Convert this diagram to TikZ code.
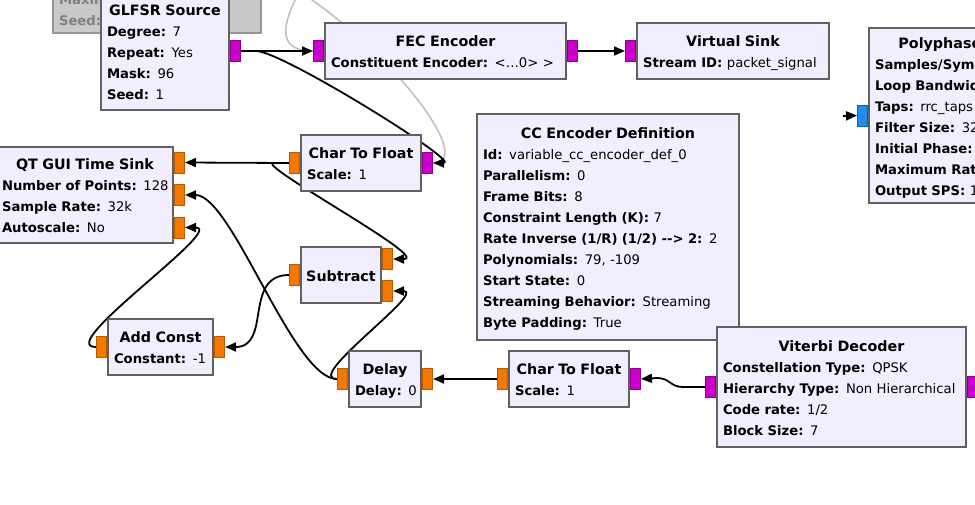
\documentclass[tikz,border=0pt]{standalone}
\usepackage{fontspec}
\setmainfont{DejaVu Sans}
\usetikzlibrary{arrows.meta,positioning}
\setlength{\parindent}{0pt}
\definecolor{blkfill}{RGB}{240,238,255}
\definecolor{blkline}{RGB}{97,97,97}
\definecolor{offfill}{RGB}{201,201,201}
\definecolor{offline}{RGB}{150,150,150}
\definecolor{offtext}{RGB}{128,128,128}
\definecolor{offwire}{RGB}{190,190,190}
\definecolor{bytecol}{RGB}{204,0,204}
\definecolor{floatcol}{RGB}{245,121,0}
\definecolor{cplxcol}{RGB}{33,140,240}
\newcommand{\lnstrut}{\rule[-4.2pt]{0pt}{21pt}}
\newcommand{\ttl}[1]{\makebox[\hsize]{\fontsize{14.3}{21}\selectfont\bfseries\lnstrut #1}}
\newcommand{\prm}[2]{\mbox{\lnstrut\textbf{#1:} #2}}
\pgfdeclarelayer{wires}
\pgfsetlayers{wires,main}
\tikzset{
  blk/.style={rectangle, draw=blkline, fill=blkfill, line width=2pt,
    inner xsep=6pt, inner ysep=0pt, align=left,
    font=\fontsize{13.2}{21}\selectfont},
  offblk/.style={blk, draw=offline, fill=offfill, text=offtext},
  portbox/.style={rectangle, minimum width=10pt, minimum height=21pt,
    inner sep=0pt, line width=1pt},
  bytep/.style={portbox, fill=bytecol, draw=bytecol!70!black},
  floatp/.style={portbox, fill=floatcol, draw=floatcol!75!black},
  cplxp/.style={portbox, fill=cplxcol, draw=cplxcol!65!black},
  wire/.style={line width=1.8pt, -{Triangle[length=11pt,width=9pt]}},
  offwire/.style={line width=1.5pt, draw=offwire}
}

\begin{document}
\begin{tikzpicture}[x=1pt, y=-1pt]
    \useasboundingbox (0,0) rectangle (975,504);

    \node[offblk, text width=196pt, minimum height=49pt] (rndsrc) at (157,8.5)
        {\prm{Maximum}{}\\\prm{Seed}{}};

    \node[blk, text width=116pt, minimum height=118pt] (glfsr) at (165,51)
        {\ttl{GLFSR Source}\\\prm{Degree}{7}\\\prm{Repeat}{Yes}\\\prm{Mask}{96}\\\prm{Seed}{1}};
    \node[blk, text width=229pt, minimum height=56pt] (fec) at (445.5,51)
        {\ttl{FEC Encoder}\\\prm{Constituent Encoder}{<…0> >}};
    \node[blk, text width=180pt, minimum height=56pt] (vsink) at (733,51)
        {\ttl{Virtual Sink}\\\prm{Stream ID}{packet\_signal}};
    \node[blk, text width=220pt, minimum height=175pt] (pp) at (985,115.5)
        {\ttl{Polyphase Clock Sync}\\\prm{Samples/Symbol}{}\\\prm{Loop Bandwidth}{}\\
         \prm{Taps}{rrc\_taps}\\\prm{Filter Size}{32}\\\prm{Initial Phase}{}\\
         \prm{Maximum Rate Deviation}{}\\\prm{Output SPS}{1}};
    \node[blk, text width=250pt, minimum height=226pt] (ccdef) at (608,227)
        {\ttl{CC Encoder Definition}\\\prm{Id}{variable\_cc\_encoder\_def\_0}\\
         \prm{Parallelism}{0}\\\prm{Frame Bits}{8}\\\prm{Constraint Length (K)}{7}\\
         \prm{Rate Inverse (1/R) (1/2) -{}-{}> 2}{2}\\\prm{Polynomials}{79, -109}\\
         \prm{Start State}{0}\\\prm{Streaming Behavior}{Streaming}\\\prm{Byte Padding}{True}};
    \node[blk, text width=237pt, minimum height=120pt] (vit) at (841.5,387)
        {\ttl{Viterbi Decoder}\\\prm{Constellation Type}{QPSK}\\
         \prm{Hierarchy Type}{Non Hierarchical}\\\prm{Code rate}{1/2}\\\prm{Block Size}{7}};
    \node[blk, text width=108pt, minimum height=56pt] (ctfa) at (361,163)
        {\ttl{Char To Float}\\\prm{Scale}{1}};
    \node[blk, text width=108pt, minimum height=56pt] (ctfb) at (569,379)
        {\ttl{Char To Float}\\\prm{Scale}{1}};
    \node[blk, text width=60pt, minimum height=56pt] (dly) at (385,379)
        {\ttl{Delay}\\\prm{Delay}{0}};
    \node[blk, text width=68pt, minimum height=56pt] (sub) at (341,275)
        {\ttl{Subtract}};
    \node[blk, text width=166pt, inner xsep=5pt, minimum height=96pt] (qt) at (85,195)
        {\ttl{QT GUI Time Sink}\\\prm{Number of Points}{128}\\\prm{Sample Rate}{32k}\\\prm{Autoscale}{No}};
    \node[blk, text width=93pt, minimum height=56pt] (addc) at (160.5,347)
        {\ttl{Add Const}\\\prm{Constant}{-1}};

    \node[bytep, right=0pt of glfsr] (glfsro) {};
    \node[bytep, left=0pt of fec] (fecin) {};
    \node[bytep, right=0pt of fec] (fecout) {};
    \node[bytep, left=0pt of vsink] (vsin) {};
    \node[cplxp, left=0pt of pp] (ppin) {};
    \node[bytep, right=0pt of ctfa] (ctfain) {};
    \node[floatp, left=0pt of ctfa] (ctfaout) {};
    \node[bytep, right=0pt of ctfb] (ctfbin) {};
    \node[floatp, left=0pt of ctfb] (ctfbout) {};
    \node[floatp, right=0pt of dly] (dlyin) {};
    \node[floatp, left=0pt of dly] (dlyout) {};
    \node[floatp, right=0pt of sub, yshift=16pt] (subina) {};
    \node[floatp, right=0pt of sub, yshift=-16pt] (subinb) {};
    \node[floatp, left=0pt of sub] (subout) {};
    \node[floatp, right=0pt of qt, yshift=32.5pt] (qtina) {};
    \node[floatp, right=0pt of qt] (qtinb) {};
    \node[floatp, right=0pt of qt, yshift=-32.5pt] (qtinc) {};
    \node[floatp, right=0pt of addc] (addcin) {};
    \node[floatp, left=0pt of addc] (addcout) {};
    \node[bytep, left=0pt of vit] (vitout) {};
    \node[bytep, right=0pt of vit] (vitin) {};

    \begin{pgfonlayer}{wires}
    \coordinate (offa) at (297,-4);
    \coordinate (offb) at (305,-5);
    \coordinate (ppfeed) at (843,116);
    \draw[offwire] (offa) .. controls (280,30) and (280,51) .. (fecin.west);
    \draw[offwire] (offb) .. controls (400,60) and (475,163) .. (ctfain.east);

    \draw[wire] (glfsro.east) -- (fecin.west);
    \draw[wire] (fecout.east) -- (vsin.west);
    \draw[wire] (glfsro.east) -- ++(15,0) .. controls +(26,0) and +(29,0) .. (ctfain.east);
    \draw[wire] (ctfaout.west) -- (qtina.east);
    \draw[wire] (ctfaout.west) -- ++(-15,0) .. controls +(-21,0) and +(39,0) .. (subina.east);
    \draw[wire] (subout.west) .. controls +(-46,0) and +(47,0) .. (addcin.east);
    \draw[wire] (addcout.west) .. controls +(-43,0) and +(42,0) .. (qtinc.east);
    \draw[wire] (dlyout.west) .. controls +(-44,0) and +(47,0) .. (qtinb.east);
    \draw[wire] (dlyout.west) .. controls +(-34,0) and +(34,0) .. (subinb.east);
    \draw[wire] (ctfbout.west) -- (dlyin.east);
    \draw[wire] (vitout.west) -- ++(-22,0) .. controls +(-13,0) and +(13,0) .. ++(-26,-9) -- (ctfbin.east);
    \draw[wire] (ppfeed) -- (ppin.west);
    \end{pgfonlayer}
\end{tikzpicture}
\end{document}
